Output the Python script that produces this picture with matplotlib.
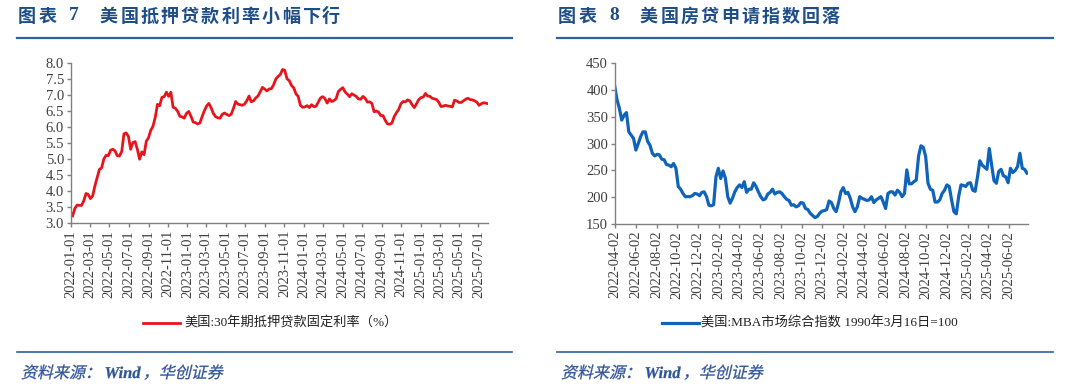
import matplotlib
matplotlib.use("Agg")
import matplotlib.pyplot as plt
import matplotlib.dates as mdates
import pandas as pd
import numpy as np
from matplotlib.lines import Line2D
from matplotlib.textpath import TextPath
from matplotlib.patches import PathPatch
from matplotlib.transforms import Affine2D, IdentityTransform
from matplotlib.font_manager import FontProperties

# ---------------- data ----------------
# Freddie Mac 30Y fixed mortgage rate (%), weekly from 2022-01-06
rate_2022 = [3.22, 3.45, 3.56, 3.55, 3.55, 3.69, 3.92, 3.89, 3.76, 3.85, 4.16, 4.42, 4.67,
             4.72, 5.00, 5.11, 5.10, 5.27, 5.30, 5.25, 5.10, 5.09, 5.23, 5.78, 5.81, 5.70,
             5.30, 5.51, 5.54, 5.30, 4.99, 5.22, 5.13, 5.55, 5.66, 5.89, 6.02, 6.29, 6.70,
             6.66, 6.92, 6.94, 7.08, 6.95, 7.08, 6.61, 6.58, 6.49, 6.33, 6.31, 6.27, 6.42]
rate_2023 = [6.48, 6.33, 6.15, 6.13, 6.09, 6.12, 6.32, 6.50, 6.65, 6.73, 6.60, 6.42, 6.32,
             6.28, 6.27, 6.39, 6.43, 6.39, 6.35, 6.39, 6.57, 6.79, 6.71, 6.69, 6.67, 6.71,
             6.81, 6.96, 6.78, 6.81, 6.90, 6.96, 7.09, 7.23, 7.18, 7.12, 7.18, 7.19, 7.31,
             7.49, 7.57, 7.63, 7.79, 7.76, 7.50, 7.44, 7.29, 7.22, 7.03, 6.95, 6.67, 6.61]
rate_2024 = [6.62, 6.66, 6.60, 6.69, 6.63, 6.64, 6.77, 6.90, 6.94, 6.88, 6.74, 6.87, 6.79,
             6.82, 6.88, 7.10, 7.17, 7.22, 7.09, 7.02, 6.94, 7.03, 6.99, 6.95, 6.87, 6.86,
             6.95, 6.89, 6.77, 6.78, 6.73, 6.47, 6.49, 6.46, 6.35, 6.35, 6.20, 6.09, 6.08,
             6.12, 6.32, 6.44, 6.54, 6.72, 6.79, 6.78, 6.84, 6.81, 6.69, 6.60, 6.72, 6.85]
rate_2025 = [6.91, 6.93, 7.04, 6.96, 6.95, 6.89, 6.87, 6.85, 6.76, 6.63, 6.65, 6.67, 6.65,
             6.64, 6.62, 6.83, 6.81, 6.76, 6.76, 6.81, 6.86, 6.89, 6.85, 6.84, 6.81, 6.77,
             6.67, 6.72, 6.75, 6.74, 6.72]
rate_values = rate_2022 + rate_2023 + rate_2024 + rate_2025
rate_start = "2022-01-06"

# MBA market composite index (1990-03-16 = 100), weekly 2022-04 .. 2025-07
mba_values = [408, 382, 366, 344, 353, 358, 322, 316, 310, 288, 300, 313, 322, 322, 304,
              297, 282, 277, 280, 279, 271, 270, 261, 260, 257, 263, 254, 220, 215, 207,
              201, 201, 201, 203, 207, 206, 203, 209, 210, 201, 185, 184, 186, 238, 254,
              235, 249, 235, 201, 189, 198, 210, 218, 223, 218, 229, 209, 215, 215, 227,
              220, 210, 201, 195, 197, 206, 209, 215, 206, 209, 210, 207, 201, 196, 194,
              185, 186, 182, 184, 190, 189, 179, 177, 170, 166, 162, 164, 170, 174, 175,
              177, 193, 190, 179, 173, 189, 210, 218, 207, 209, 198, 182, 173, 182, 201,
              198, 196, 194, 195, 201, 190, 195, 198, 201, 191, 179, 207, 210, 210, 204,
              213, 209, 201, 207, 251, 225, 225, 229, 232, 277, 296, 293, 276, 226, 215,
              213, 191, 191, 195, 207, 213, 223, 220, 195, 173, 169, 201, 223, 222, 220,
              226, 227, 213, 211, 238, 268, 260, 256, 252, 291, 260, 231, 226, 248, 252,
              240, 238, 227, 254, 246, 250, 257, 282, 254, 252, 245]
mba_start = "2022-04-01"
mba_end = "2025-07-25"

rate_ticks_months = [1, 3, 5, 7, 9, 11]
mba_ticks_months = [2, 4, 6, 8, 10, 12]

title_left_label = "图表"
title_left_no = "7"
title_left = "美国抵押贷款利率小幅下行"
title_right_label = "图表"
title_right_no = "8"
title_right = "美国房贷申请指数回落"
legend_left = "美国:30年期抵押贷款固定利率（%）"
legend_right = "美国:MBA市场综合指数 1990年3月16日=100"
source_parts = ["资料来源：", "Wind", "，华创证券"]

# ---------------- style ----------------
RED = "#E8141C"
BLUE = "#0F64BA"
NAVY = "#1F4E86"
LINE_BLUE = "#2E5F9E"
SRC_BLUE = "#2F5597"
TICK_C = "#404040"
SPINE_C = "#808080"
SERIF = ["Liberation Serif", "Noto Sans CJK SC"]
CJK = ["Noto Sans CJK SC", "DejaVu Sans"]

W, H = 1080, 386
fig = plt.figure(figsize=(W / 100, H / 100), dpi=100)
fig.patch.set_facecolor("white")


def fx(px):
    return px / W


def fy(py):
    return 1 - py / H


def style_axis(ax):
    for s in ["top", "right"]:
        ax.spines[s].set_visible(False)
    for s in ["left", "bottom"]:
        ax.spines[s].set_color(SPINE_C)
        ax.spines[s].set_linewidth(1.0)
    ax.tick_params(axis="both", colors=SPINE_C, labelcolor=TICK_C, length=3, width=1.0,
                   direction="out", pad=2)
    for lab in ax.get_xticklabels() + ax.get_yticklabels():
        lab.set_family("Liberation Serif")
        lab.set_fontsize(10.5)


# ---- left chart ----
ax1 = fig.add_axes([fx(71), fy(223), fx(488 - 71), (223 - 62.7) / H])
rate_dates = pd.date_range(rate_start, periods=len(rate_values), freq="7D")
ax1.plot(rate_dates, rate_values, color=RED, lw=2.0, solid_joinstyle="round")
ax1.set_ylim(3.0, 8.0)
ax1.set_yticks(np.arange(3.0, 8.01, 0.5))
ax1.yaxis.set_major_formatter(matplotlib.ticker.FormatStrFormatter("%.1f"))
ax1.set_xlim(pd.Timestamp("2022-01-01"), pd.Timestamp("2025-07-31"))
ax1.xaxis.set_major_locator(mdates.MonthLocator(bymonth=rate_ticks_months, bymonthday=1))
ax1.xaxis.set_major_formatter(mdates.DateFormatter("%Y-%m-%d"))
ax1.tick_params(axis="x", labelrotation=90)
style_axis(ax1)

# ---- right chart ----
ax2 = fig.add_axes([fx(615), fy(224), fx(1028 - 615), (224 - 63.3) / H])
mba_dates = pd.date_range(mba_start, mba_end, periods=len(mba_values))
ax2.plot(mba_dates, mba_values, color=BLUE, lw=2.3, solid_joinstyle="round")
ax2.set_ylim(150, 450)
ax2.set_yticks(np.arange(150, 451, 50))
ax2.set_xlim(pd.Timestamp("2022-04-02"), pd.Timestamp("2025-07-28"))
ax2.xaxis.set_major_locator(mdates.MonthLocator(bymonth=mba_ticks_months, bymonthday=2))
ax2.xaxis.set_major_formatter(mdates.DateFormatter("%Y-%m-%d"))
ax2.tick_params(axis="x", labelrotation=90)
style_axis(ax2)


def spaced_text(x_px, y_px, s, step, **kw):
    for i, ch in enumerate(s):
        fig.text(fx(x_px + i * step), fy(y_px), ch, va="center", ha="left", **kw)


def skew_text(x_px, y_px, s, prop, size_px, color, skew=13):
    tp = TextPath((0, 0), s, size=size_px, prop=prop)
    tr = Affine2D().skew_deg(skew, 0).translate(x_px, H - y_px) + IdentityTransform()
    fig.add_artist(PathPatch(tp, transform=tr, fc=color, ec=color, lw=0.2))
    return tp.get_extents().x1


# ---- titles, rules, legends, sources ----
TSTYLE = dict(family=CJK, fontsize=13, fontweight="bold", color=NAVY)
cjk_prop = FontProperties(family="Noto Sans CJK SC")
ital_prop = FontProperties(family="Liberation Serif", style="italic", weight="bold")
CJK_ADV = 16.7
for x0, x1, xno, xdig, xt, tlab, tno, tt in [
        (17, 512, 18, 69, 100, title_left_label, title_left_no, title_left),
        (557, 1053, 558, 609, 640, title_right_label, title_right_no, title_right)]:
    spaced_text(xno, 16, tlab, 20.5, **TSTYLE)
    fig.text(fx(xdig), fy(16), tno, family="Liberation Serif", fontsize=14,
             fontweight="bold", color=NAVY, va="center", ha="left")
    spaced_text(xt, 16, tt, 20.2, **TSTYLE)
    fig.add_artist(Line2D([fx(x0), fx(x1)], [fy(38), fy(38)], color=LINE_BLUE, lw=1.6))
    fig.add_artist(Line2D([fx(x0), fx(x1)], [fy(352), fy(352)], color=LINE_BLUE, lw=1.2))
    # source line (italic look)
    xs = x0 + 4
    base_y = 378
    skew_text(xs, base_y, source_parts[0], cjk_prop, 16, SRC_BLUE)
    xs += len(source_parts[0]) * CJK_ADV
    xs += skew_text(xs, base_y, source_parts[1], ital_prop, 16.5, SRC_BLUE, skew=0) + 2
    skew_text(xs, base_y, source_parts[2], cjk_prop, 16, SRC_BLUE)

# legends
fig.add_artist(Line2D([fx(143), fx(180)], [fy(323), fy(323)], color=RED, lw=2.0))
fig.text(fx(184), fy(323), legend_left, family=SERIF, fontsize=9.5, color="#222222",
         va="center", ha="left")
fig.add_artist(Line2D([fx(662), fx(699)], [fy(323), fy(323)], color=BLUE, lw=2.3))
fig.text(fx(701), fy(323), legend_right, family=SERIF, fontsize=9.5, color="#222222",
         va="center", ha="left")

fig.savefig("out.png", dpi=100, facecolor="white")
